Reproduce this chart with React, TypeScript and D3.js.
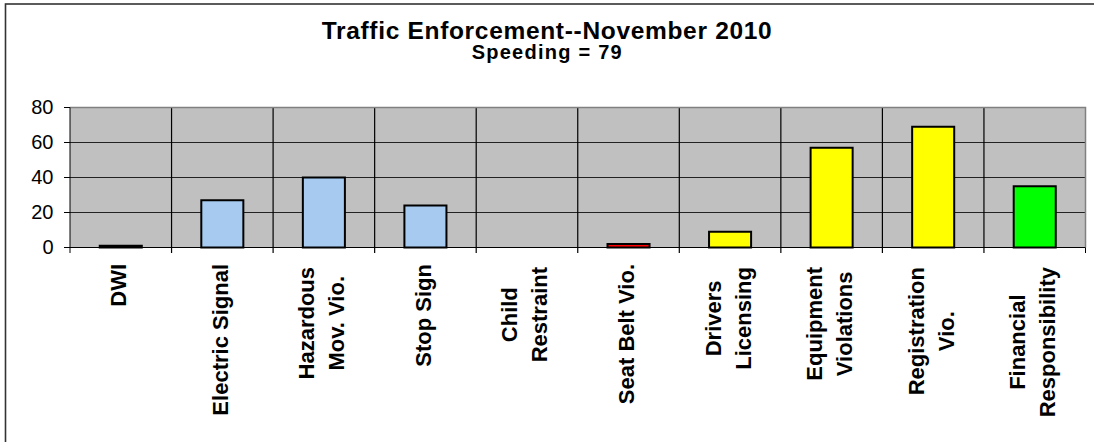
import React, { useEffect, useRef } from "react";
import * as d3 from "d3";

const categories = [
  "DWI",
  "Electric Signal",
  "Hazardous Mov. Vio.",
  "Stop Sign",
  "Child Restraint",
  "Seat Belt Vio.",
  "Drivers Licensing",
  "Equipment Violations",
  "Registration Vio.",
  "Financial Responsibility",
];
const labelLines = [
  ["DWI"],
  ["Electric Signal"],
  ["Hazardous", "Mov. Vio."],
  ["Stop Sign"],
  ["Child", "Restraint"],
  ["Seat Belt Vio."],
  ["Drivers", "Licensing"],
  ["Equipment", "Violations"],
  ["Registration", "Vio."],
  ["Financial", "Responsibility"],
];
const values = [1, 27, 40, 24, 0, 2, 9, 57, 69, 35];
const barColors = [
  "#000000",
  "#A6CAF0",
  "#A6CAF0",
  "#A6CAF0",
  "#A6CAF0",
  "#FF0000",
  "#FFFF00",
  "#FFFF00",
  "#FFFF00",
  "#00FF00",
];
const yTicks = [0, 20, 40, 60, 80];
const title = "Traffic Enforcement--November 2010";
const subtitle = "Speeding = 79";

const W = 1094;
const H = 442;
const FONT = "'Liberation Sans', Arial, Helvetica, sans-serif";

export default function App() {
  const ref = useRef<SVGSVGElement>(null);

  useEffect(() => {
    const svg = d3.select(ref.current);
    svg.selectAll("*").remove();

    const left = 70;
    const right = 1085.5;
    const top = 107.5;
    const bottom = 247.5;

    const x = d3.scaleBand<string>().domain(categories).range([left, right]).padding(0);
    const y = d3.scaleLinear().domain([0, 80]).range([bottom, top]);

    svg.append("rect").attr("x", 0).attr("y", 0).attr("width", W).attr("height", H).attr("fill", "#fff");
    // outer chart border
    svg
      .append("rect")
      .attr("x", 5.5)
      .attr("y", 4)
      .attr("width", 1300)
      .attr("height", 800)
      .attr("fill", "none")
      .attr("stroke", "#333")
      .attr("stroke-width", 1.6);

    // title
    svg
      .append("text")
      .attr("x", 546.7)
      .attr("y", 39.3)
      .attr("text-anchor", "middle")
      .attr("font-family", FONT)
      .attr("font-weight", "bold")
      .attr("font-size", 24.5)
      .attr("textLength", 450)
      .attr("lengthAdjust", "spacing")
      .text(title);
    svg
      .append("text")
      .attr("x", 546.7)
      .attr("y", 58.5)
      .attr("text-anchor", "middle")
      .attr("font-family", FONT)
      .attr("font-weight", "bold")
      .attr("font-size", 20)
      .attr("textLength", 150)
      .attr("lengthAdjust", "spacing")
      .text(subtitle);

    // plot background
    svg
      .append("rect")
      .attr("x", left)
      .attr("y", top)
      .attr("width", right - left)
      .attr("height", bottom - top)
      .attr("fill", "#C0C0C0");

    // horizontal gridlines
    svg
      .append("g")
      .selectAll("line")
      .data(yTicks.filter((t) => t > 0 && t < 80))
      .join("line")
      .attr("x1", left)
      .attr("x2", right)
      .attr("y1", (d) => y(d))
      .attr("y2", (d) => y(d))
      .attr("stroke", "#222")
      .attr("stroke-width", 1.2);

    // vertical category separators + ticks below
    const bounds = categories.map((c) => x(c)!).concat([right]);
    svg
      .append("g")
      .selectAll("line")
      .data(bounds.slice(1, -1))
      .join("line")
      .attr("x1", (d) => d)
      .attr("x2", (d) => d)
      .attr("y1", top)
      .attr("y2", bottom + 5.5)
      .attr("stroke", "#000")
      .attr("stroke-width", 1.2);
    svg
      .append("line")
      .attr("x1", right)
      .attr("x2", right)
      .attr("y1", bottom)
      .attr("y2", bottom + 5.5)
      .attr("stroke", "#000");

    // plot border top/right gray
    svg
      .append("path")
      .attr("d", `M${left},${top}H${right}V${bottom}`)
      .attr("fill", "none")
      .attr("stroke", "#808080")
      .attr("stroke-width", 1.5);

    // bars
    const bw = x.bandwidth() * 0.414;
    svg
      .append("g")
      .selectAll("rect")
      .data(values.map((v, i) => ({ v, i })).filter((d) => d.v > 0))
      .join("rect")
      .attr("x", (d) => x(categories[d.i])! + (x.bandwidth() - bw) / 2)
      .attr("y", (d) => y(d.v))
      .attr("width", bw)
      .attr("height", (d) => y(0) - y(d.v))
      .attr("fill", (d) => barColors[d.i])
      .attr("stroke", "#000")
      .attr("stroke-width", 2);

    // axes lines
    svg
      .append("line")
      .attr("x1", left)
      .attr("x2", left)
      .attr("y1", top)
      .attr("y2", bottom + 5.5)
      .attr("stroke", "#000");
    svg
      .append("line")
      .attr("x1", left)
      .attr("x2", right)
      .attr("y1", bottom)
      .attr("y2", bottom)
      .attr("stroke", "#000");

    // y ticks
    const yg = svg.append("g");
    yg.selectAll("line")
      .data(yTicks)
      .join("line")
      .attr("x1", left - 6)
      .attr("x2", left)
      .attr("y1", (d) => y(d))
      .attr("y2", (d) => y(d))
      .attr("stroke", "#000");
    yg.selectAll("text")
      .data(yTicks)
      .join("text")
      .attr("x", 53.5)
      .attr("y", (d) => y(d) + 6.5)
      .attr("text-anchor", "end")
      .attr("font-family", FONT)
      .attr("font-size", 20)
      .text((d) => String(d));

    // x labels (rotated, multi-line centered)
    const lineGap = 30;
    categories.forEach((c, i) => {
      const lines = labelLines[i];
      const cx = x(c)! + x.bandwidth() / 2;
      const g = svg.append("g");
      const texts = lines.map((ln) =>
        g
          .append("text")
          .attr("font-family", FONT)
          .attr("font-weight", "bold")
          .attr("font-size", 22)
          .attr("text-anchor", "middle")
          .text(ln)
      );
      const widths = texts.map((t) => (t.node() as SVGTextElement).getComputedTextLength());
      const maxW = d3.max(widths) || 0;
      const topY = lines.length > 1 ? 267 : 264;
      const centerY = topY + maxW / 2;
      texts.forEach((t, j) => {
        const bx = cx + 5.5 + (j - (lines.length - 1) / 2) * lineGap;
        t.attr("transform", `translate(${bx},${centerY}) rotate(-90)`);
      });
    });
  }, []);

  return (
    <svg
      ref={ref}
      width={W}
      height={H}
      style={{ position: "absolute", left: 0, top: 0, display: "block" }}
    />
  );
}
